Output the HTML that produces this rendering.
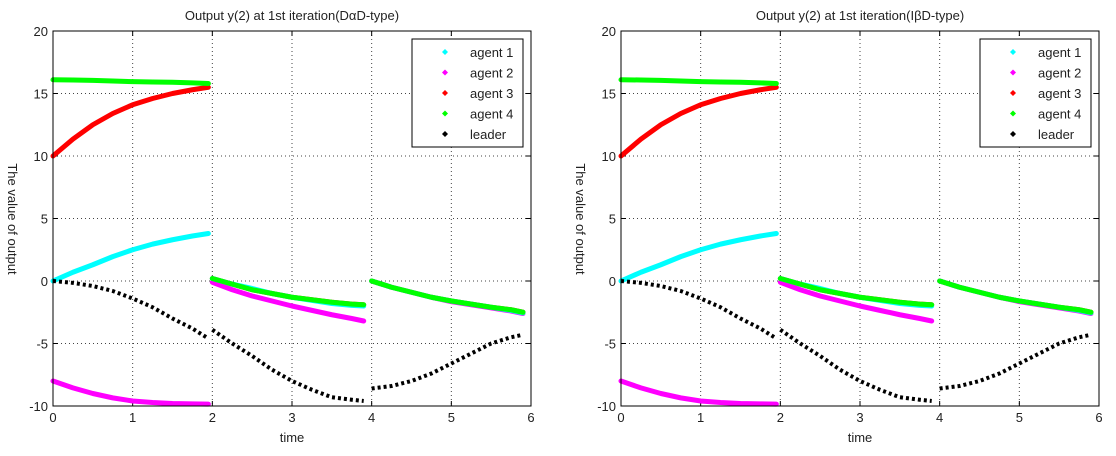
<!DOCTYPE html>
<html><head><meta charset="utf-8"><style>
body{margin:0;background:#fff;width:1116px;height:456px;overflow:hidden;font-family:"Liberation Sans",sans-serif}
svg{position:absolute;top:0}
text{font-family:"Liberation Sans",sans-serif;font-size:13px;fill:#222}
</style></head><body>
<svg id="c1" width="560" height="456" style="left:0"></svg>
<svg id="c2" width="556" height="456" style="left:568px"></svg>
<script>
const xTicks=[0,1,2,3,4,5,6];
const yTicks=[-10,-5,0,5,10,15,20];
const tSeg1=[0,0.25,0.5,0.75,1,1.25,1.5,1.75,1.95];
const tSeg2=[2,2.25,2.5,2.75,3,3.25,3.5,3.75,3.9];
const tSeg3=[4,4.25,4.5,4.75,5,5.25,5.5,5.75,5.9];
const agent1=[[0,0.7,1.3,1.95,2.5,2.95,3.3,3.6,3.8],[0.2,-0.25,-0.6,-1.0,-1.3,-1.55,-1.8,-1.95,-2.0],[0,-0.5,-0.9,-1.3,-1.6,-1.85,-2.1,-2.35,-2.55]];
const agent2=[[-8,-8.55,-9.0,-9.35,-9.6,-9.72,-9.8,-9.83,-9.85],[-0.1,-0.7,-1.2,-1.6,-2.0,-2.35,-2.7,-3.0,-3.2],[0,-0.5,-0.9,-1.3,-1.65,-1.9,-2.15,-2.4,-2.6]];
const agent3=[[10,11.35,12.5,13.4,14.1,14.6,15.0,15.3,15.5],[0.2,-0.25,-0.7,-1.0,-1.3,-1.5,-1.7,-1.85,-1.9],[0,-0.5,-0.9,-1.3,-1.6,-1.85,-2.1,-2.3,-2.5]];
const agent4=[[16.1,16.08,16.05,16.0,15.95,15.92,15.9,15.85,15.8],[0.2,-0.25,-0.7,-1.0,-1.3,-1.5,-1.7,-1.85,-1.9],[0,-0.5,-0.9,-1.3,-1.6,-1.85,-2.1,-2.3,-2.5]];
const leaderT=[[0,0.25,0.5,0.75,1,1.25,1.5,1.75,1.95],[2,2.25,2.5,2.75,3,3.25,3.5,3.75,3.9],[4,4.25,4.5,4.75,5,5.25,5.5,5.75,5.9]];
const leader=[[0,-0.15,-0.4,-0.8,-1.4,-2.1,-3.0,-3.8,-4.6],[-3.9,-5.0,-6.0,-7.1,-8.0,-8.7,-9.3,-9.5,-9.6],[-8.6,-8.4,-8.0,-7.4,-6.6,-5.8,-5.0,-4.5,-4.3]];
const seriesNames=["agent 1","agent 2","agent 3","agent 4","leader"];
const seriesColors=["#00ffff","#ff00ff","#ff0000","#00ff00","#000000"];
const NS="http://www.w3.org/2000/svg";
function mk(p,tag,attrs){const e=document.createElementNS(NS,tag);for(const k in attrs)e.setAttribute(k,attrs[k]);p.appendChild(e);return e;}
function draw(svg,title){
  const L=53,R=531,T=31,B=406;
  const X=v=>L+(v-0)/6*(R-L), Y=v=>B-(v+10)/30*(B-T);
  let e=mk(svg,'rect',{x:L,y:T,width:R-L,height:B-T,fill:'#fff',stroke:'none'});
  
  
  xTicks.forEach(v=>{
    if(v>0&&v<6){e=mk(svg,'line',{x1:X(v),x2:X(v),y1:T,y2:B,stroke:'#444','stroke-dasharray':'1 3','stroke-width':1});
    }
    mk(svg,'line',{x1:X(v),x2:X(v),y1:B,y2:B-5,stroke:'#000'});mk(svg,'line',{x1:X(v),x2:X(v),y1:T,y2:T+5,stroke:'#000'});
    e=mk(svg,'text',{x:X(v),y:B+16,'text-anchor':'middle'});e.textContent=v;
    
  });
  yTicks.forEach(v=>{
    if(v>-10&&v<20){e=mk(svg,'line',{x1:L,x2:R,y1:Y(v),y2:Y(v),stroke:'#444','stroke-dasharray':'1 3','stroke-width':1});
    }
    mk(svg,'line',{x1:L,x2:L+5,y1:Y(v),y2:Y(v),stroke:'#000'});mk(svg,'line',{x1:R,x2:R-5,y1:Y(v),y2:Y(v),stroke:'#000'});
    e=mk(svg,'text',{x:L-5,y:Y(v)+5,'text-anchor':'end'});e.textContent=v;
    
  });
  const segT=[tSeg1,tSeg2,tSeg3];
  const agents=[agent3,agent2,agent1,agent4];
  const cols=[seriesColors[2],seriesColors[1],seriesColors[0],seriesColors[3]];
  const names=['agent-3-line','agent-2-line','agent-1-line','agent-4-line'];
  agents.forEach((a,i)=>{
    a.forEach((seg,s)=>{
      const pts=seg.map((v,j)=>X(segT[s][j])+','+Y(v)).join(' ');
      e=mk(svg,'polyline',{points:pts,fill:'none',stroke:cols[i],'stroke-width':5,'stroke-linecap':'round','stroke-linejoin':'round'});
      
    });
  });
  leader.forEach((seg,s)=>{
    const pts=seg.map((v,j)=>X(leaderT[s][j])+','+Y(v)).join(' ');
    e=mk(svg,'polyline',{points:pts,fill:'none',stroke:'#000','stroke-width':4,'stroke-dasharray':'3 3'});
    
  });
  e=mk(svg,'rect',{x:L,y:T,width:R-L,height:B-T,fill:'none',stroke:'#000','stroke-width':1});
  
  e=mk(svg,'text',{x:(L+R)/2,y:20,'text-anchor':'middle'});e.textContent=title;
  
  e=mk(svg,'text',{x:(L+R)/2,y:442,'text-anchor':'middle'});e.textContent='time';
  
  e=mk(svg,'text',{x:0,y:0,'text-anchor':'middle',transform:'translate(8,219) rotate(90)'});e.textContent='The value of output';
  
  const lg=mk(svg,'g',{});
  
  mk(lg,'rect',{x:412,y:39,width:111,height:108,fill:'#fff',stroke:'#000'});
  seriesNames.forEach((n,i)=>{
    const cy=52+i*20.5;
    e=mk(lg,'path',{d:`M${445},${cy-3}l3,3l-3,3l-3,-3z`,fill:seriesColors[i]});
    
    e=mk(lg,'text',{x:470,y:cy+5});e.textContent=n;
    
  });
}
draw(document.getElementById('c1'),'Output y(2) at 1st iteration(D\u03b1D-type)');
draw(document.getElementById('c2'),'Output y(2) at 1st iteration(I\u03b2D-type)');
</script>
</body></html>
